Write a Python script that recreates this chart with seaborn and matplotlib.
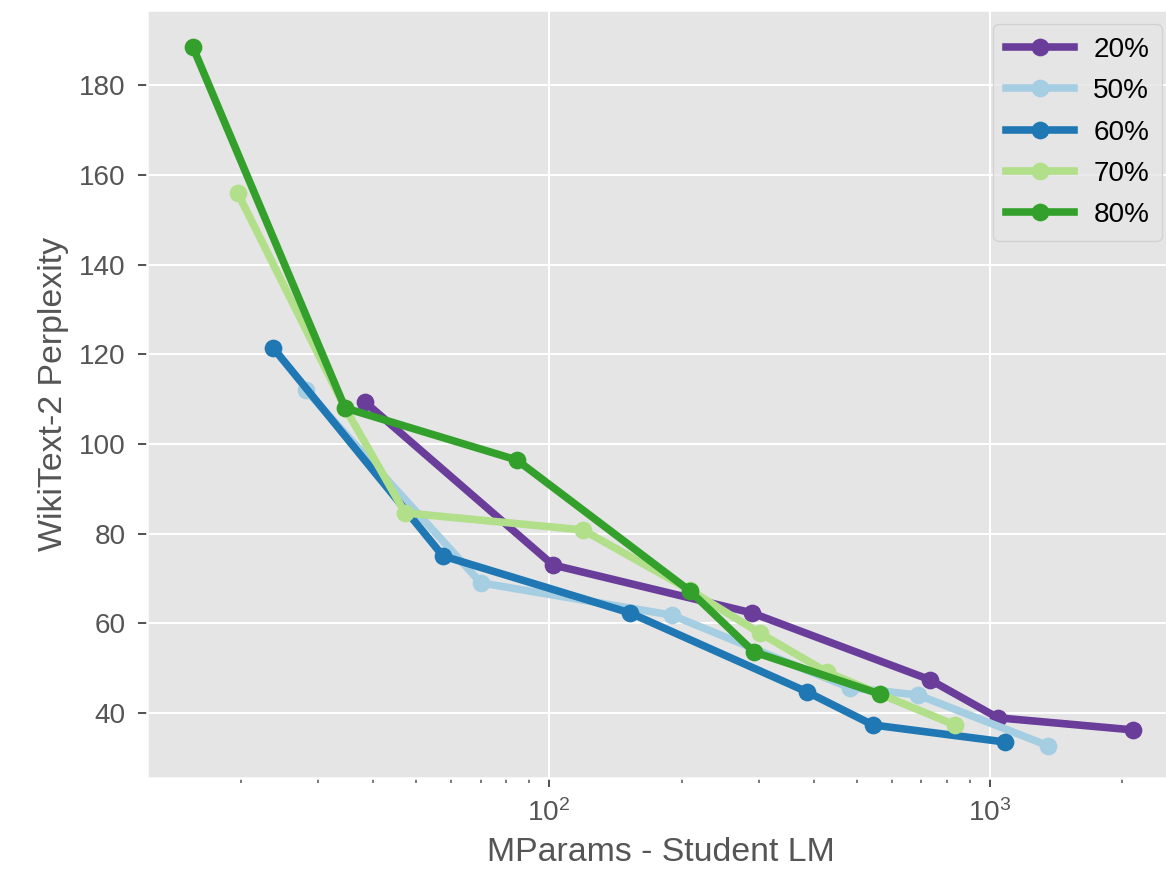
"""
Perplexity vs student LM size for several pruning ratios
"""
import numpy as np
import pandas as pd
import matplotlib
matplotlib.use("Agg")
import matplotlib.pyplot as plt
import seaborn as sns

# values
params_20 = [38.3, 102.1, 288.6, 731, 1043, 2110]
ppl_20 = [109.3, 73.0, 62.3, 47.4, 38.9, 36.2]

params_50 = [28.1, 70.1, 190, 481, 687, 1354]
ppl_50 = [112.0, 69.0, 61.8, 45.6, 44.0, 32.7]

params_60 = [23.7, 57.5, 152.7, 384.6, 543, 1082]
ppl_60 = [121.4, 75.0, 62.3, 44.7, 37.3, 33.5]

params_70 = [19.7, 34.5, 47.2, 119.4, 208.8, 300.9, 427, 833]
ppl_70 = [155.9, 108.0, 84.6, 80.8, 67.4, 57.8, 49.1, 37.3]

params_80 = [15.58, 34.5, 84.6, 208.8, 291.6, 563]
ppl_80 = [188.5, 108.0, 96.4, 67.2, 53.6, 44.2]

ratios = ["20%", "50%", "60%", "70%", "80%"]
colors = ["#6a3d9a", "#a6cee3", "#1f78b4", "#b2df8a", "#33a02c"]

all_params = [params_20, params_50, params_60, params_70, params_80]
all_ppl = [ppl_20, ppl_50, ppl_60, ppl_70, ppl_80]

frames = []
for ratio, xs, ys in zip(ratios, all_params, all_ppl):
    frames.append(pd.DataFrame({"mparams": xs, "ppl": ys, "ratio": ratio}))
df = pd.concat(frames, ignore_index=True)

plt.style.use("ggplot")
plt.rcParams["font.family"] = ["Liberation Sans", "DejaVu Sans"]
plt.rcParams["mathtext.default"] = "regular"

fig = plt.figure(figsize=(6.4, 4.795), dpi=182.3)
# the source image is cropped on the right, so the axes run past the edge
ax = fig.add_axes([0.126, 0.11, 0.8817, 0.878])

sns.lineplot(
    data=df, x="mparams", y="ppl", hue="ratio", hue_order=ratios,
    palette=colors, marker="o", markersize=7, markeredgewidth=0,
    linewidth=3, sort=False, estimator=None, ax=ax
)

ax.set_xscale("log")
ax.set_xlim(12.26, 2641)
ax.set_ylim(25.5, 196.7)
ax.set_yticks([40, 60, 80, 100, 120, 140, 160, 180])
ax.set_xlabel("MParams - Student LM", fontsize=13.4, color="#555555")
ax.set_ylabel("WikiText-2 Perplexity", fontsize=13.4, color="#555555")
ax.tick_params(axis="both", which="major", labelsize=11, pad=5)
ax.tick_params(axis="x", which="minor", color="#555555")

leg = ax.legend(loc="upper right", fontsize=11, handlelength=2.45,
                borderpad=0.45, labelspacing=0.55, handletextpad=0.7,
                borderaxespad=0.5)
leg.get_frame().set_edgecolor("#cccccc")

fig.savefig("out.png", dpi=182.3)
